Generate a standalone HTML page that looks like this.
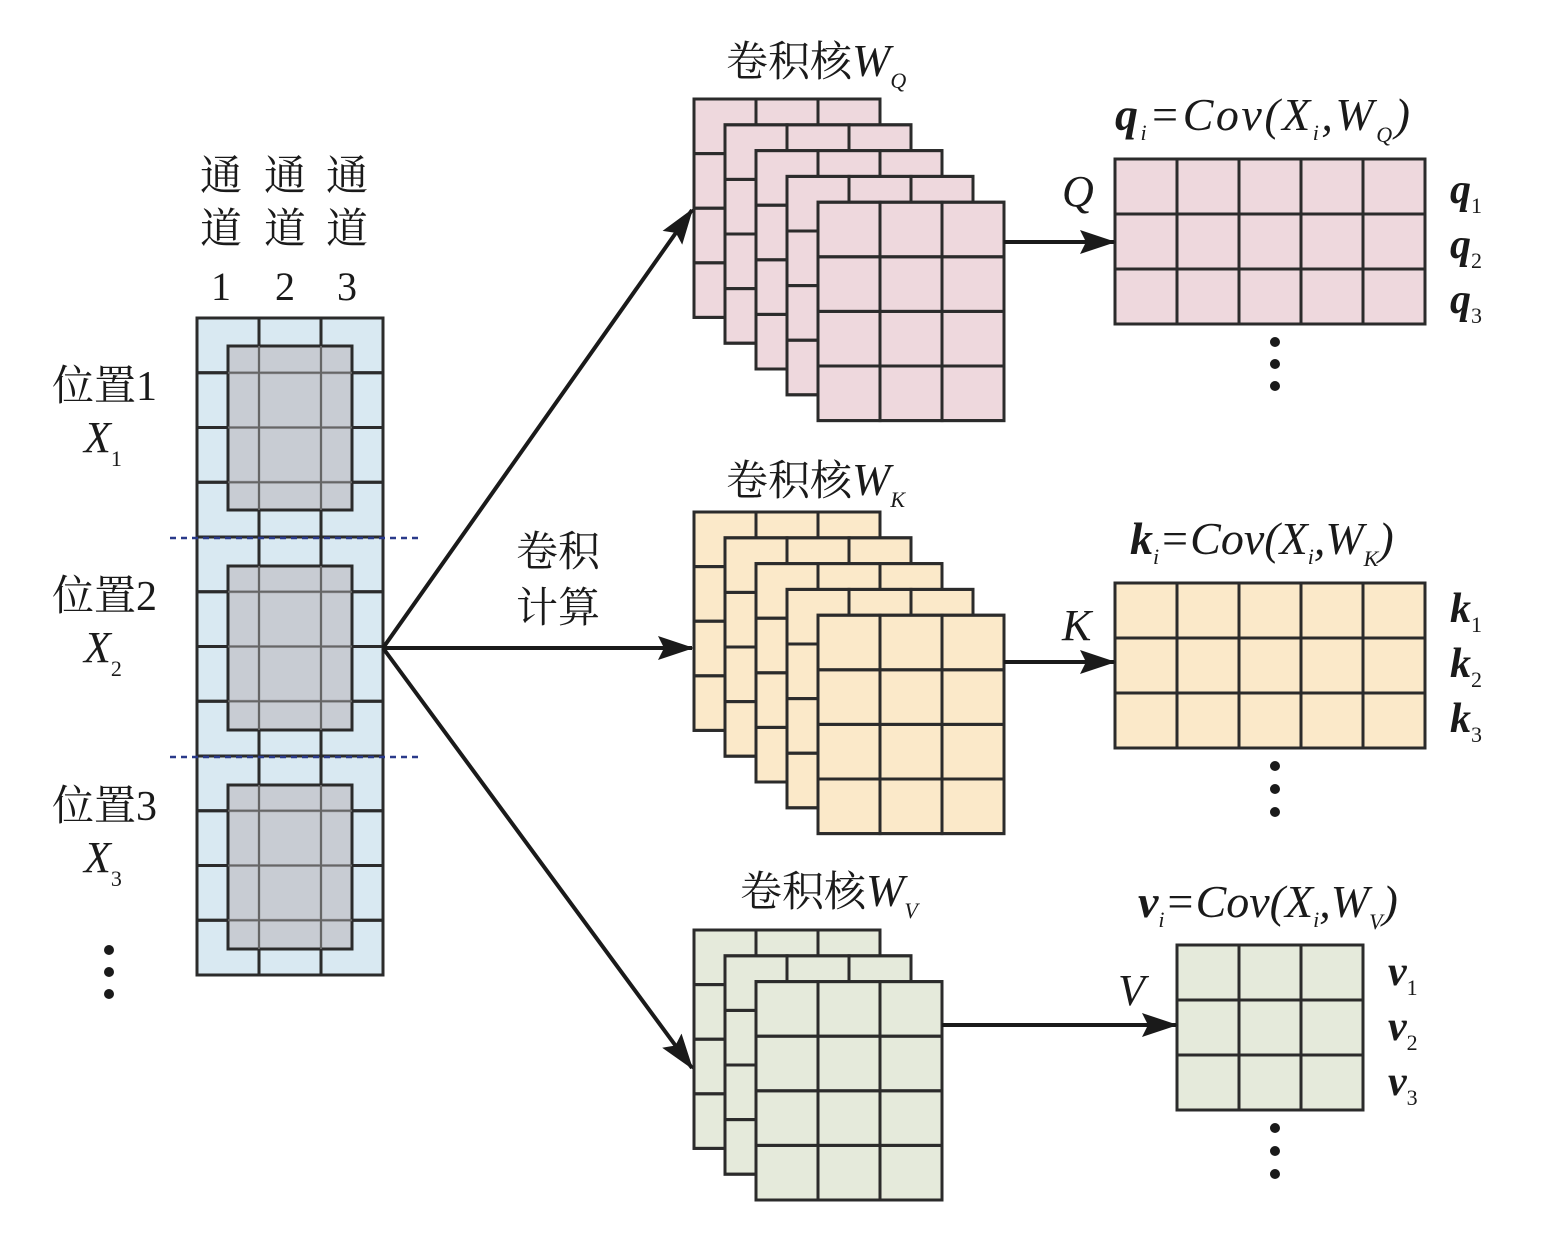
<!DOCTYPE html>
<html><head><meta charset="utf-8">
<style>
html,body{margin:0;padding:0;background:#fff;width:1560px;height:1239px;overflow:hidden}
svg{display:block}
.cn{font-family:"Liberation Serif","Noto Serif CJK SC","Noto Sans CJK SC",serif;font-size:42px;fill:#1a1a1a}
.m{font-family:"Liberation Serif",serif;font-style:italic;fill:#1a1a1a}
.n{font-family:"Liberation Serif",serif;fill:#1a1a1a}
</style></head><body>
<svg id="s" width="1560" height="1239" viewBox="0 0 1560 1239" xmlns="http://www.w3.org/2000/svg">
<defs>
<marker id="ah2" markerWidth="36" markerHeight="24" refX="34" refY="12" orient="auto" markerUnits="userSpaceOnUse" viewBox="0 0 36 24">
<path d="M0,0 L36,12 L0,24 L6,12 z" fill="#1a1a1a"/></marker>
</defs>
<g id="shapes"></g>
<line x1="170" y1="538" x2="422" y2="538" stroke="#2a3a8a" stroke-width="2.5" stroke-dasharray="6,5"/>
<line x1="170" y1="757" x2="422" y2="757" stroke="#2a3a8a" stroke-width="2.5" stroke-dasharray="6,5"/>
<g stroke="#1a1a1a" stroke-width="4" fill="none">
<line x1="383" y1="648" x2="692" y2="210" marker-end="url(#ah2)"/>
<line x1="383" y1="648" x2="692" y2="648" marker-end="url(#ah2)"/>
<line x1="383" y1="648" x2="692" y2="1068" marker-end="url(#ah2)"/>
<line x1="1004" y1="242" x2="1114" y2="242" marker-end="url(#ah2)"/>
<line x1="1004" y1="662" x2="1114" y2="662" marker-end="url(#ah2)"/>
<line x1="942" y1="1025" x2="1176" y2="1025" marker-end="url(#ah2)"/>
</g>
<text class="cn" x="200" y="190">通</text><text class="cn" x="264" y="190">通</text><text class="cn" x="326" y="190">通</text>
<text class="cn" x="200" y="243">道</text><text class="cn" x="264" y="243">道</text><text class="cn" x="326" y="243">道</text>
<text class="n" font-size="40" x="211" y="300">1</text><text class="n" font-size="40" x="275" y="300">2</text><text class="n" font-size="40" x="337" y="300">3</text>
<text class="cn" x="52" y="400">位置<tspan class="n" font-size="42">1</tspan></text>
<text class="m" font-size="44" x="84" y="452">X<tspan font-size="22" font-style="normal" dy="14">1</tspan></text>
<text class="cn" x="52" y="610">位置<tspan class="n" font-size="42">2</tspan></text>
<text class="m" font-size="44" x="84" y="662">X<tspan font-size="22" font-style="normal" dy="14">2</tspan></text>
<text class="cn" x="52" y="820">位置<tspan class="n" font-size="42">3</tspan></text>
<text class="m" font-size="44" x="84" y="872">X<tspan font-size="22" font-style="normal" dy="14">3</tspan></text>
<g fill="#1a1a1a"><circle cx="109" cy="950" r="5"/><circle cx="109" cy="972" r="5"/><circle cx="109" cy="994" r="5"/>
<circle cx="1275" cy="342" r="5"/><circle cx="1275" cy="364" r="5"/><circle cx="1275" cy="386" r="5"/>
<circle cx="1275" cy="766" r="5"/><circle cx="1275" cy="789" r="5"/><circle cx="1275" cy="812" r="5"/>
<circle cx="1275" cy="1128" r="5"/><circle cx="1275" cy="1151" r="5"/><circle cx="1275" cy="1174" r="5"/></g>
<text class="cn" x="516" y="566">卷积</text>
<text class="cn" x="516" y="622">计算</text>
<text class="cn" x="726" y="76">卷积核<tspan class="m" font-size="46">W</tspan><tspan class="m" font-size="22" dy="12">Q</tspan></text>
<text class="cn" x="726" y="495">卷积核<tspan class="m" font-size="46">W</tspan><tspan class="m" font-size="22" dy="12">K</tspan></text>
<text class="cn" x="740" y="906">卷积核<tspan class="m" font-size="46">W</tspan><tspan class="m" font-size="22" dy="12">V</tspan></text>
<text class="m" font-size="46" x="1115" y="130" textLength="295"><tspan font-weight="bold">q</tspan><tspan font-size="22" dy="10">i</tspan><tspan dy="-10">=Cov(X</tspan><tspan font-size="22" dy="10">i</tspan><tspan dy="-10">,W</tspan><tspan font-size="22" dy="12">Q</tspan><tspan dy="-12">)</tspan></text>
<text class="m" font-size="46" x="1130" y="554"><tspan font-weight="bold">k</tspan><tspan font-size="22" dy="10">i</tspan><tspan dy="-10">=Cov(X</tspan><tspan font-size="22" dy="10">i</tspan><tspan dy="-10">,W</tspan><tspan font-size="22" dy="12">K</tspan><tspan dy="-12">)</tspan></text>
<text class="m" font-size="46" x="1138" y="917"><tspan font-weight="bold">v</tspan><tspan font-size="22" dy="10">i</tspan><tspan dy="-10">=Cov(X</tspan><tspan font-size="22" dy="10">i</tspan><tspan dy="-10">,W</tspan><tspan font-size="22" dy="12">V</tspan><tspan dy="-12">)</tspan></text>
<text class="m" font-size="44" x="1062" y="206">Q</text>
<text class="m" font-size="44" x="1062" y="640">K</text>
<text class="m" font-size="44" x="1118" y="1005">V</text>
<g class="m" font-size="42" font-weight="bold">
<text x="1450" y="203">q<tspan font-size="22" font-weight="normal" font-style="normal" dy="10">1</tspan></text>
<text x="1450" y="258">q<tspan font-size="22" font-weight="normal" font-style="normal" dy="10">2</tspan></text>
<text x="1450" y="313">q<tspan font-size="22" font-weight="normal" font-style="normal" dy="10">3</tspan></text>
<text x="1450" y="622">k<tspan font-size="22" font-weight="normal" font-style="normal" dy="10">1</tspan></text>
<text x="1450" y="677">k<tspan font-size="22" font-weight="normal" font-style="normal" dy="10">2</tspan></text>
<text x="1450" y="732">k<tspan font-size="22" font-weight="normal" font-style="normal" dy="10">3</tspan></text>
<text x="1388" y="985">v<tspan font-size="22" font-weight="normal" font-style="normal" dy="10">1</tspan></text>
<text x="1388" y="1040">v<tspan font-size="22" font-weight="normal" font-style="normal" dy="10">2</tspan></text>
<text x="1388" y="1095">v<tspan font-size="22" font-weight="normal" font-style="normal" dy="10">3</tspan></text>
</g>
</svg>
<script>
var g=document.getElementById('shapes'),NS='http://www.w3.org/2000/svg';
function r(x,y,w,h,f,sw,st){var e=document.createElementNS(NS,'rect');e.setAttribute('x',x);e.setAttribute('y',y);e.setAttribute('width',w);e.setAttribute('height',h);e.setAttribute('fill',f);e.setAttribute('stroke',st||'#2b2b2b');e.setAttribute('stroke-width',sw||3);g.appendChild(e);}
function ln(x1,y1,x2,y2){var l=document.createElementNS(NS,'line');l.setAttribute('x1',x1);l.setAttribute('x2',x2);l.setAttribute('y1',y1);l.setAttribute('y2',y2);l.setAttribute('stroke','#666');l.setAttribute('stroke-width',2);g.appendChild(l);}
function grid(x,y,cols,rows,cw,ch,f){r(x,y,cols*cw,rows*ch,f);for(var i=0;i<cols;i++)for(var j=0;j<rows;j++)r(x+i*cw,y+j*ch,cw,ch,'none',3);}
grid(197,318,3,12,62,54.75,'#d9e9f2');
[346,566,785].forEach(function(y){r(228,y,124,164,'rgba(196,199,206,0.85)',3);});
[346,566,785].forEach(function(y){
 [259,321].forEach(function(x){ln(x,y,x,y+164);});
 for(var k=1;k<12;k++){var yy=318+k*54.75;if(yy>y&&yy<y+164)ln(228,yy,352,yy);}
});
function stack(n,y0,f){for(var i=0;i<n;i++)grid(694+i*31,y0+i*25.8,3,4,62,54.6,f);}
stack(5,99,'#eed8dd');
stack(5,512,'#fbe9c9');
stack(3,930,'#e5eadb');
grid(1115,159,5,3,62,55,'#eed8dd');
grid(1115,583,5,3,62,55,'#fbe9c9');
grid(1177,945,3,3,62,55,'#e5eadb');
</script>
</body></html>
